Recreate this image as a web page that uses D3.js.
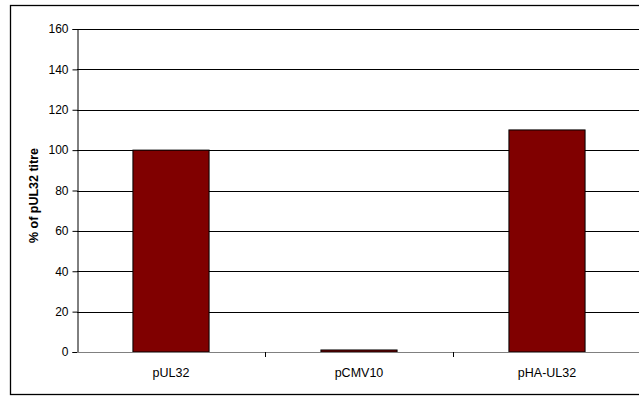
<!DOCTYPE html>
<html>
<head>
<meta charset="utf-8">
<script src="https://cdn.jsdelivr.net/npm/d3@7/dist/d3.min.js"></script>
<style>
  html, body { margin: 0; padding: 0; background: #fff; }
  svg { display: block; font-family: "Liberation Sans", Arial, sans-serif; }
</style>
</head>
<body>
<svg id="chart" width="639" height="396"></svg>
<script>
// Titre relative to pUL32 (%)
const categories = ["pUL32", "pCMV10", "pHA-UL32"];
const values = [100, 1, 110];
const yTicks = [0, 20, 40, 60, 80, 100, 120, 140, 160];
const yTitle = "% of pUL32 titre";

const svg = d3.select("#chart");
const plot = { left: 77, right: 641, top: 29, bottom: 352 };
const FONT = "Liberation Sans, Arial, sans-serif";

// outer frame
svg.append("rect")
  .attr("x", 10.5).attr("y", 5.5)
  .attr("width", 700).attr("height", 389)
  .attr("fill", "#fff").attr("stroke", "#000").attr("stroke-width", 1.3);

const x = d3.scaleBand().domain(categories).range([plot.left, plot.right]).paddingInner(0).paddingOuter(0);
const y = d3.scaleLinear().domain([0, 160]).range([plot.bottom, plot.top]);

// gridlines
svg.append("g")
  .selectAll("line")
  .data(yTicks.filter(d => d > 0))
  .join("line")
  .attr("x1", plot.left).attr("x2", plot.right)
  .attr("y1", d => Math.round(y(d)) + 0.5).attr("y2", d => Math.round(y(d)) + 0.5)
  .attr("stroke", "#000").attr("stroke-width", 1);

// bars
const bw = x.bandwidth() * 0.405;
svg.append("g")
  .selectAll("rect")
  .data(categories.map((c, i) => ({ c, v: values[i] })))
  .join("rect")
  .attr("x", d => x(d.c) + (x.bandwidth() - bw) / 2)
  .attr("y", d => y(d.v))
  .attr("width", bw)
  .attr("height", d => y(0) - y(d.v))
  .attr("fill", "#800000")
  .attr("stroke", "#000").attr("stroke-width", 1);

// y axis
const yAxis = d3.axisLeft(y).tickValues(yTicks).tickSize(5).tickPadding(4);
const gy = svg.append("g").attr("transform", `translate(${plot.left + 0.5},0)`).call(yAxis);
gy.select(".domain").attr("stroke", "#000");
gy.selectAll(".tick line").attr("stroke", "#000");
gy.selectAll(".tick text").attr("font-size", 12).attr("fill", "#000")
  .attr("font-family", FONT);

// x axis (category boundaries as ticks)
const bounds = categories.slice(1).map(c => x(c));
svg.append("line")
  .attr("x1", plot.left).attr("x2", plot.right)
  .attr("y1", plot.bottom + 0.5).attr("y2", plot.bottom + 0.5)
  .attr("stroke", "#808080").attr("stroke-width", 1);
svg.append("g").selectAll("line").data(bounds).join("line")
  .attr("x1", d => Math.round(d) + 0.5).attr("x2", d => Math.round(d) + 0.5)
  .attr("y1", plot.bottom).attr("y2", plot.bottom + 5)
  .attr("stroke", "#000");
svg.append("g").selectAll("text").data(categories).join("text")
  .attr("x", d => x(d) + x.bandwidth() / 2)
  .attr("y", plot.bottom + 25)
  .attr("text-anchor", "middle")
  .attr("font-size", 12.5)
  .text(d => d);

// y title
svg.append("text")
  .attr("transform", `translate(38,${(plot.top + plot.bottom) / 2 + 5}) rotate(-90)`)
  .attr("text-anchor", "middle")
  .attr("font-size", 12.5).attr("font-weight", "bold")
  .text(yTitle);
</script>
</body>
</html>
